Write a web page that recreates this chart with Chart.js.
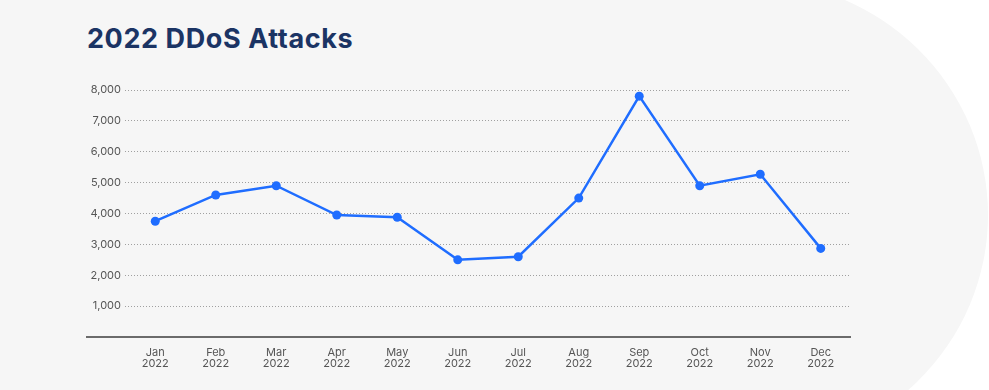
<!DOCTYPE html>
<html>
<head>
<meta charset="utf-8">
<script src="https://cdn.jsdelivr.net/npm/chart.js@4.4.1/dist/chart.umd.min.js"></script>
<style>
  html, body { margin: 0; padding: 0; background: #ffffff; }
  #wrap { position: relative; width: 989px; height: 390px; overflow: hidden; }
  #bg {
    position: absolute; left: 0; top: -20px; width: 988px; height: 470px;
    background: #f6f6f6;
    border-top-right-radius: 240px 235px;
    border-bottom-right-radius: 240px 235px;
  }
  #title {
    position: absolute; left: 87px; top: 22px; margin: 0;
    font-family: Inter, sans-serif; font-weight: 700; font-size: 27px;
    color: #1b3464; letter-spacing: 0.6px;
  }
  canvas { position: absolute; left: 0; top: 0; }
</style>
</head>
<body>
<div id="wrap">
  <div id="bg"></div>
  <h1 id="title">2022 DDoS Attacks</h1>
  <canvas id="chart" width="989" height="390"></canvas>
</div>
<script>
const months = ['Jan', 'Feb', 'Mar', 'Apr', 'May', 'Jun', 'Jul', 'Aug', 'Sep', 'Oct', 'Nov', 'Dec'];
const year = '2022';
const attacks = [3750, 4600, 4900, 3950, 3880, 2500, 2600, 4500, 7800, 4900, 5270, 2870];
const yMax = 8000;
const yStep = 1000;

const lineBlue = '#1f6dff';
const axisGrey = '#6b6b6b';
const tickFont = { family: 'Inter, sans-serif', size: 11 };

const isZero = (c) => c.tick && c.tick.value === 0;

const ctx = document.getElementById('chart').getContext('2d');

const chart = new Chart(ctx, {
    type: 'line',
    data: {
        labels: months.map(m => [m, year]),
        datasets: [{
            data: attacks,
            borderColor: lineBlue,
            backgroundColor: lineBlue,
            borderWidth: 2.5,
            pointRadius: 4.5,
            pointBorderWidth: 0,
            tension: 0,
            fill: false
        }]
    },
    options: {
        responsive: false,
        animation: false,
        layout: {
            padding: { left: 86, right: 138, top: 90, bottom: 18 }
        },
        plugins: {
            legend: { display: false },
            tooltip: { enabled: false }
        },
        scales: {
            x: {
                offset: true,
                grid: { display: false, drawTicks: false },
                border: { display: false },
                ticks: {
                    color: '#555555',
                    font: { ...tickFont, lineHeight: 1.0 },
                    padding: 10,
                    maxRotation: 0,
                    autoSkip: false
                },
                afterFit: (scale) => { scale.height = 35; }
            },
            y: {
                min: 0,
                max: yMax,
                ticks: {
                    stepSize: yStep,
                    color: '#555555',
                    font: tickFont,
                    padding: -35,
                    callback: (v) => v === 0 ? '' : v.toLocaleString('en-US')
                },
                grid: {
                    color: (c) => isZero(c) ? axisGrey : '#a0a0a0',
                    lineWidth: (c) => isZero(c) ? 2 : 1,
                    drawTicks: true,
                    tickLength: 39,
                    tickWidth: 2,
                    tickColor: (c) => isZero(c) ? axisGrey : 'transparent'
                },
                border: {
                    display: false,
                    dash: (c) => isZero(c) ? [] : [1, 2]
                },
                afterFit: (scale) => { scale.width = 39; }
            }
        }
    }
});
</script>
</body>
</html>
